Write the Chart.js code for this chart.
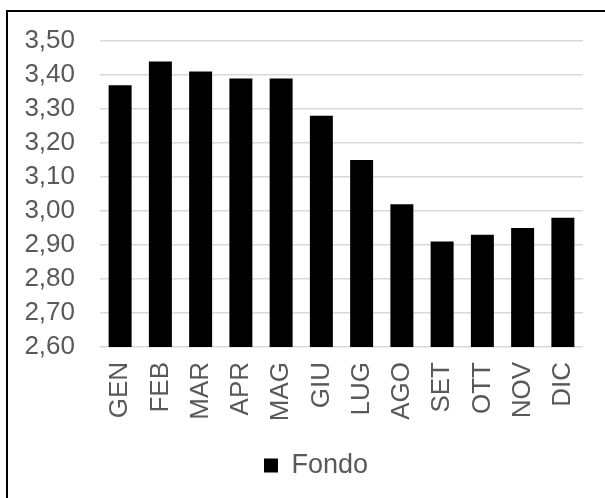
<!DOCTYPE html>
<html>
<head>
<meta charset="utf-8">
<script src="https://cdn.jsdelivr.net/npm/chart.js@4"></script>
<style>
  html,body{margin:0;padding:0;background:#fff;overflow:hidden;width:605px;height:498px;}
  #wrap{position:absolute;left:6px;top:10px;width:618px;height:500px;border-left:2px solid #000;border-top:2px solid #000;}
  #wrap canvas{position:absolute;left:0;top:0;}
</style>
</head>
<body>
<div id="wrap"><canvas id="c" width="616" height="486"></canvas></div>
<script>
const months = ['GEN','FEB','MAR','APR','MAG','GIU','LUG','AGO','SET','OTT','NOV','DIC'];
const fondo = [3.37,3.44,3.41,3.39,3.39,3.28,3.15,3.02,2.91,2.93,2.95,2.98];
const seriesName = 'Fondo';
const yMin = 2.6, yMax = 3.5, yStep = 0.1;

const txt = '#595959';
const font = 'Liberation Sans, Arial, sans-serif';

new Chart(document.getElementById('c'), {
  type:'bar',
  data:{
    labels: months,
    datasets:[{label:seriesName, data:fondo, backgroundColor:'#000', borderWidth:0,
      barPercentage:0.571, categoryPercentage:1}]
  },
  options:{
    responsive:false,
    animation:false,
    layout:{padding:{top:29,right:0,bottom:9,left:0}},
    plugins:{
      tooltip:{enabled:false},
      legend:{position:'bottom',
        labels:{color:txt, font:{family:font,size:27}, boxWidth:14, boxHeight:14, padding:10}}
    },
    scales:{
      y:{min:yMin, max:yMax,
        afterFit: s=>{ s.width = 92; },
        // gap between labels and plot done with an invisible tick, tick padding would push the plot down
        ticks:{stepSize:yStep, autoSkip:false, color:txt, padding:0, font:{family:font,size:26},
          callback: v => Number(v).toFixed(2).replace('.',',')},
        grid:{color:'#d9d9d9', lineWidth:1.5, drawTicks:true, tickLength:25, tickColor:'rgba(0,0,0,0)'},
        border:{display:false}
      },
      // empty right-hand scale just to reserve space, so the legend stays centred on the whole box
      spacer:{position:'right', min:0, max:1,
        afterFit: s=>{ s.width = 41; },
        ticks:{display:false}, grid:{display:false, drawTicks:false}, border:{display:false}
      },
      x:{
        afterFit: s=>{ s.height = 95; },
        ticks:{color:txt, padding:15, minRotation:90, maxRotation:90, font:{family:font,size:26}},
        grid:{display:false, drawTicks:false},
        border:{display:false}
      }
    }
  }
});
</script>
</body>
</html>
